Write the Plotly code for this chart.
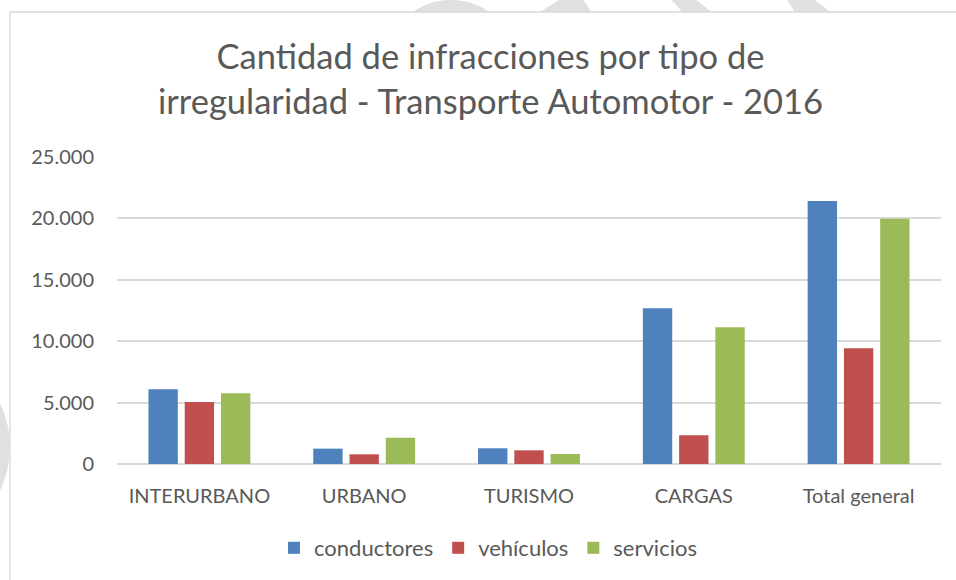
import plotly.graph_objects as go

categories = ["INTERURBANO", "URBANO", "TURISMO", "CARGAS", "Total general"]
conductores = [6080, 1250, 1280, 12680, 21420]
vehiculos = [5050, 790, 1115, 2340, 9420]
servicios = [5760, 2140, 815, 11130, 19970]
series_names = ["conductores", "vehículos", "servicios"]
colors = ["#4F81BD", "#C0504D", "#9BBB59"]
tick_vals = [0, 5000, 10000, 15000, 20000, 25000]
title_text = "Cantidad de infracciones por tipo de<br>irregularidad - Transporte Automotor - 2016"

font_fam = "Lato, 'Open Sans', sans-serif"
W, H = 956, 580
L, R, T, B = 117, 15, 157, 116
PW, PH = W - L - R, H - T - B


def px(x):
    return (x - L) / PW


def py(y):
    return (H - B - y) / PH


fig = go.Figure()
for name, vals, col in zip(series_names, [conductores, vehiculos, servicios], colors):
    fig.add_trace(go.Bar(x=categories, y=vals, name=name,
                         marker=dict(color=col, line=dict(width=0))))

fig.update_layout(
    width=W, height=H,
    separators=",.",
    paper_bgcolor="white", plot_bgcolor="rgba(0,0,0,0)",
    margin=dict(l=L, r=R, t=T, b=B, autoexpand=False),
    barmode="group", bargap=0.34, bargroupgap=0.19,
    font=dict(family=font_fam, color="#595959", size=20),
    legend=dict(orientation="h", x=px(488), xanchor="center", y=py(548), yanchor="middle",
                font=dict(size=22, color="#595959"), traceorder="normal",
                bgcolor="rgba(0,0,0,0)"),
    showlegend=True,
)
fig.add_annotation(text=title_text, xref="paper", yref="paper", x=px(490), y=py(78),
                   xanchor="center", yanchor="middle", showarrow=False,
                   font=dict(size=34.5, color="#595959", family=font_fam))

fig.update_yaxes(range=[0, 25000], tickvals=tick_vals, tickformat=",d", automargin=False,
                 showgrid=True, gridcolor="#D9D9D9", gridwidth=1.5,
                 zeroline=True, zerolinecolor="#D9D9D9", zerolinewidth=1.5,
                 showline=False, ticklabelstandoff=22, tickfont=dict(size=20))
fig.update_xaxes(showline=False, ticks="", automargin=False, ticklabelstandoff=18,
                 tickfont=dict(size=20))

# faint watermark fragments peeking around the chart frame
wm = "#E0E0E0"
fig.add_shape(type="circle", xref="paper", yref="paper", layer="below",
              x0=px(451 - 68), x1=px(451 + 68), y0=py(68 + 68), y1=py(68 - 68),
              fillcolor=wm, line=dict(width=0))
fig.add_shape(type="circle", xref="paper", yref="paper", layer="below",
              x0=px(-190), x1=px(10), y0=py(447 + 100), y1=py(447 - 100),
              fillcolor=wm, line=dict(width=0))
for poly in [[(537, 14), (562, -2), (582, -2), (593, 14)],
             [(670, -2), (694, -2), (714, 14), (684, 14)],
             [(786, -2), (812, -2), (833, 14), (796, 14)]]:
    path = "M " + " L ".join(f"{px(x)},{py(y)}" for x, y in poly) + " Z"
    fig.add_shape(type="path", xref="paper", yref="paper", layer="below",
                  path=path, fillcolor=wm, line=dict(width=0))

# chart frame
fig.add_shape(type="rect", xref="paper", yref="paper", layer="below",
              x0=px(10), x1=px(975), y0=py(600), y1=py(12),
              line=dict(color="#D9D9D9", width=1.3), fillcolor="white")

fig.write_html("out.html", config={"displayModeBar": False},
               post_script="document.body.style.margin='0';document.body.style.padding='0';")
